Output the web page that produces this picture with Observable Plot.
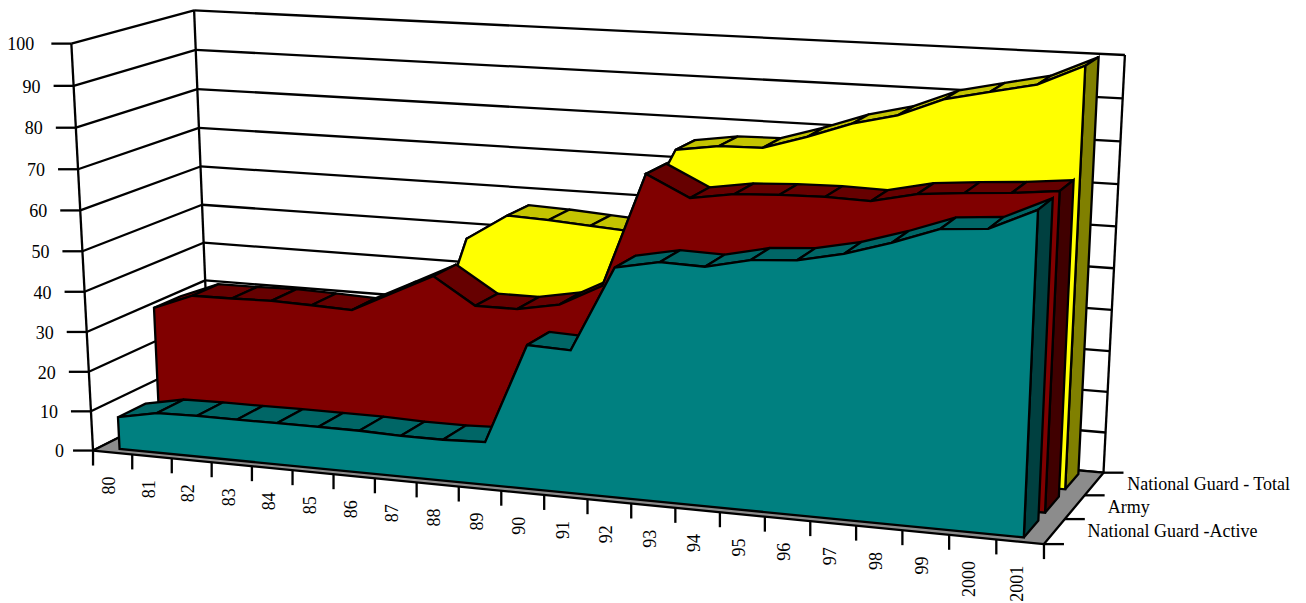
<!DOCTYPE html>
<html><head><meta charset="utf-8">
<script src="https://cdn.jsdelivr.net/npm/d3@7"></script>
<script src="https://cdn.jsdelivr.net/npm/@observablehq/plot@0.6"></script>
<style>html,body{margin:0;background:#fff}svg{display:block}</style>
</head><body>
<div id="chart"></div>
<script>
// Categories and values
const years = ["80","81","82","83","84","85","86","87","88","89","90","91","92","93","94","95","96","97","98","99","2000","2001"];
const valueTicks = [0,10,20,30,40,50,60,70,80,90,100];
const seriesNames = ["National Guard -Active","Army","National Guard - Total"];
const guardActive = [8.1,10.1,10.3,10.3,10.4,10.4,10.4,10.1,10.1,10.5,34.9,34.5,54.8,56.8,56.5,58.8,59.5,61.7,64.9,68.7,69.5,74.4];
const army = [31.2,35.1,35.2,35.4,35.1,34.7,39.7,44.7,38.2,38.2,40.1,45.4,72.8,67.8,69.4,69.9,70.1,69.8,72.1,73,73.7,74.8];
const guardTotal = [16,19,19,19,19,19,20,49.8,56.3,55.9,55.2,54.5,75,76.5,76.7,79.9,83.6,86.1,90.4,92.7,94.9,99.7];

// Shades per series: front face, top ribbon, right end
const palette = [
  {front:"#008080", top:"#006666", side:"#004040"},
  {front:"#800000", top:"#660000", side:"#400000"},
  {front:"#ffff00", top:"#c4c400", side:"#808000"}
];
const seriesValues = [guardActive, army, guardTotal];

// Perspective camera for the chart box: category u (0-22), value v (0-100), depth w (0-3)
const camera = [849.40115,-24.54353,131.44034,92.53690,40.66171,-408.67090,-31.19849,450.04729,-0.09730,-0.04036,0.07045];
function project(u, v, w) {
  const U = u/22, V = v/100, W = w/3, m = camera;
  const d = m[8]*U + m[9]*V + m[10]*W + 1;
  return {x:(m[0]*U + m[1]*V + m[2]*W + m[3])/d, y:(m[4]*U + m[5]*V + m[6]*W + m[7])/d};
}

const nCat = years.length, nSer = seriesNames.length;
const frontInset = 0.17, backInset = 0.85;

// Closed polygons, painted in array order
const polys = [];
let pid = 0;
function poly(points, fill) {
  const id = pid++;
  for (const [u,v,w] of points) polys.push({id, fill, ...project(u,v,w)});
}
const walls = [];
let wid = 0;
function wall(points, fill) {
  const id = wid++;
  for (const [u,v,w] of points) walls.push({id, fill, ...project(u,v,w)});
}
wall([[0,0,0],[0,100,0],[0,100,nSer],[0,0,nSer]],"#ffffff");
wall([[0,0,nSer],[0,100,nSer],[nCat,100,nSer],[nCat,0,nSer]],"#ffffff");
wall([[0,0,0],[nCat,0,0],[nCat,0,nSer],[0,0,nSer]],"#8c8c8c");

// Each series: top ribbon, right end, then the front face, back to front
for (let s = nSer-1; s >= 0; s--) {
  const vals = seriesValues[s], c = palette[s];
  const w0 = s+frontInset, w1 = s+backInset;
  vals.forEach((v,i) => {
    if (i === nCat-1) return;
    const u = i+0.5, n = vals[i+1];
    poly([[u,v,w0],[u+1,n,w0],[u+1,n,w1],[u,v,w1]], c.top);
  });
  const last = nCat-0.5;
  poly([[last,0,w0],[last,vals[nCat-1],w0],[last,vals[nCat-1],w1],[last,0,w1]], c.side);
  poly([[0.5,0,w0],...vals.map((v,i)=>[i+0.5,v,w0]),[last,0,w0]], c.front);
}

// Wall grid, box edges and ticks
const seg = (a,b) => { const p=project(...a), q=project(...b); return {x1:p.x,y1:p.y,x2:q.x,y2:q.y}; };
const grid = [];
for (const v of valueTicks) {
  grid.push(seg([0,v,0],[0,v,nSer]));
  grid.push(seg([0,v,nSer],[nCat,v,nSer]));
}
grid.push(seg([0,0,0],[0,100,0]), seg([0,0,nSer],[0,100,nSer]), seg([nCat,0,nSer],[nCat,100,nSer]));
const tickLen = {value:20, cat:15, ser:20};
const ticks = [];
for (const v of valueTicks) { const p=project(0,v,0); ticks.push({x1:p.x-tickLen.value,y1:p.y,x2:p.x,y2:p.y}); }
for (let i=0;i<=nCat;i++) { const p=project(i,0,0); ticks.push({x1:p.x,y1:p.y,x2:p.x,y2:p.y+tickLen.cat}); }
for (let i=0;i<=nSer;i++) { const p=project(nCat,0,i); ticks.push({x1:p.x,y1:p.y,x2:p.x+tickLen.ser,y2:p.y}); }

const valueLabels = valueTicks.map(v => { const t=String(v), p=project(0,v,0); return {x:p.x-33+(2-t.length)*4,y:p.y+1,t}; });
const catLabels = years.map((t,i) => { const p=project(i+0.5,0,0); return {x:p.x-3,y:p.y+24,t}; });
const serLabels = seriesNames.map((t,i) => { const p=project(nCat,0,i+0.5); return {x:p.x+33,y:p.y,t}; });

const ink = {stroke:"black", strokeWidth:2.3};
const font = {fontFamily:"'Liberation Serif',serif", fontSize:18, fill:"black"};
const chart = Plot.plot({
  width:1306, height:603, margin:0,
  x:{type:"identity", axis:null},
  y:{type:"identity", axis:null},
  style:{background:"white"},
  marks:[
    Plot.line(walls,{x:"x",y:"y",z:"id",fill:"fill",stroke:"none",curve:"linear-closed"}),
    Plot.link(grid,{x1:"x1",y1:"y1",x2:"x2",y2:"y2",...ink}),
    Plot.line(walls.filter(d=>d.id===2),{x:"x",y:"y",z:"id",fill:"fill",...ink,curve:"linear-closed"}),
    Plot.link(ticks,{x1:"x1",y1:"y1",x2:"x2",y2:"y2",...ink}),
    Plot.line(polys,{x:"x",y:"y",z:"id",fill:"fill",...ink,curve:"linear-closed",strokeLinejoin:"miter",strokeMiterlimit:3}),
    Plot.text(valueLabels,{x:"x",y:"y",text:"t",textAnchor:"end",...font}),
    Plot.text(catLabels,{x:"x",y:"y",text:"t",rotate:-90,textAnchor:"end",...font}),
    Plot.text(serLabels,{x:"x",y:"y",text:"t",textAnchor:"start",...font})
  ]
});
document.getElementById("chart").append(chart);
</script></body></html>
